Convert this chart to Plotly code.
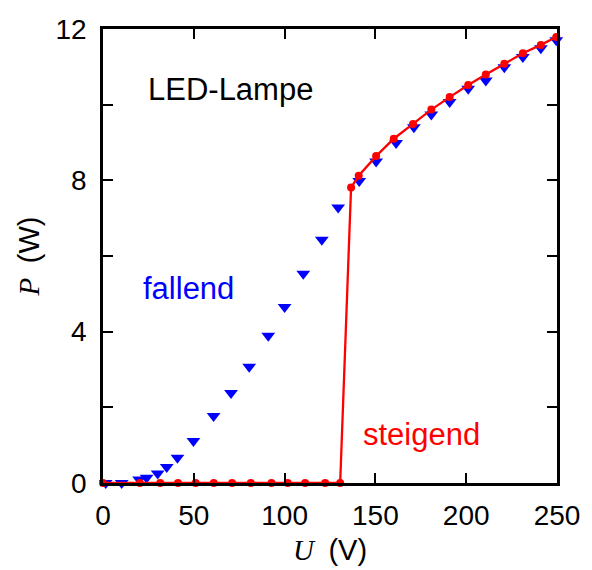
import plotly.graph_objects as go

# steigend (rising) data
u_up = [0, 20.3, 31.5, 41.3, 51, 61, 71.1, 81.4, 92.8, 101.7, 111.3, 122.3, 130.6,
        136.6, 140.8, 150.4, 160.1, 170.7, 180.8, 190.9, 201.1, 210.8, 221, 231.2, 241.1, 249.6]
p_up = [0, 0, 0, 0, 0, 0, 0, 0, 0, 0, 0, 0, 0,
        7.81, 8.12, 8.64, 9.10, 9.49, 9.87, 10.20, 10.52, 10.80, 11.08, 11.36, 11.58, 11.79]

# fallend (falling) data
u_down = [1.5, 10.3, 19.9, 24, 30.1, 35.1, 41, 49.8, 60.9, 70.5, 80.5, 91, 100, 110.3,
          120.5, 129.5, 141.1, 150.4, 161.4, 171.2, 180.8, 190.9, 201.1, 210.8, 221, 231.2,
          241.1, 249.6]
p_down = [0.0, 0.0, 0.09, 0.14, 0.25, 0.42, 0.67, 1.11, 1.77, 2.38, 3.07, 3.89, 4.65, 5.53,
          6.43, 7.28, 7.98, 8.50, 8.99, 9.40, 9.74, 10.07, 10.42, 10.64, 10.99, 11.26,
          11.49, 11.70]

x_ticks = [0, 50, 100, 150, 200, 250]
y_ticks = [0, 4, 8, 12]
y_minor = [2, 6, 10]

FONT = "Liberation Sans, Arial, Helvetica, sans-serif"
SERIF = "Liberation Serif, Times New Roman, serif"

fig = go.Figure()
fig.add_trace(go.Scatter(
    x=u_down, y=p_down, mode="markers",
    marker=dict(symbol="triangle-down", size=12, color="#0000ff"),
    cliponaxis=False, showlegend=False))
fig.add_trace(go.Scatter(
    x=u_up, y=p_up, mode="lines+markers",
    line=dict(color="#ff0000", width=2.3),
    marker=dict(symbol="circle", size=8, color="#ff0000"),
    cliponaxis=False, showlegend=False))

axis_common = dict(
    showline=True, linecolor="black", linewidth=2.5, mirror="ticks",
    ticks="inside", ticklen=10, tickwidth=2, tickcolor="black",
    showgrid=False, zeroline=False, automargin=False,
    tickfont=dict(family=FONT, size=28, color="black"),
)

fig.update_xaxes(range=[0, 250], tickvals=x_ticks, ticklabelstandoff=6,
                 title=dict(text="<i>U</i>  <span style='font-family:Liberation Sans'>(V)</span>",
                            font=dict(family=SERIF, size=29, color="black"), standoff=10),
                 **axis_common)
fig.update_yaxes(range=[0, 12], tickvals=y_ticks, ticklabelstandoff=8,
                 minor=dict(ticks="inside", ticklen=10, tickwidth=2, tickcolor="black",
                            tickvals=y_minor, showgrid=False),
                 title=dict(text="<i>P</i>  <span style='font-family:Liberation Sans'>(W)</span>",
                            font=dict(family=SERIF, size=29, color="black"), standoff=8),
                 **axis_common)

fig.add_annotation(x=70, y=10.4, text="LED-Lampe",
                   showarrow=False, font=dict(family=FONT, size=31, color="black"))
fig.add_annotation(x=47, y=5.13, text="fallend",
                   showarrow=False, font=dict(family=FONT, size=31, color="#0000ff"))
fig.add_annotation(x=175.3, y=1.29, text="steigend",
                   showarrow=False, font=dict(family=FONT, size=31, color="#ff0000"))

fig.update_layout(
    width=592, height=570,
    margin=dict(l=95, r=43, t=21, b=95),
    paper_bgcolor="white", plot_bgcolor="white",
)

fig.write_html("out.html")
